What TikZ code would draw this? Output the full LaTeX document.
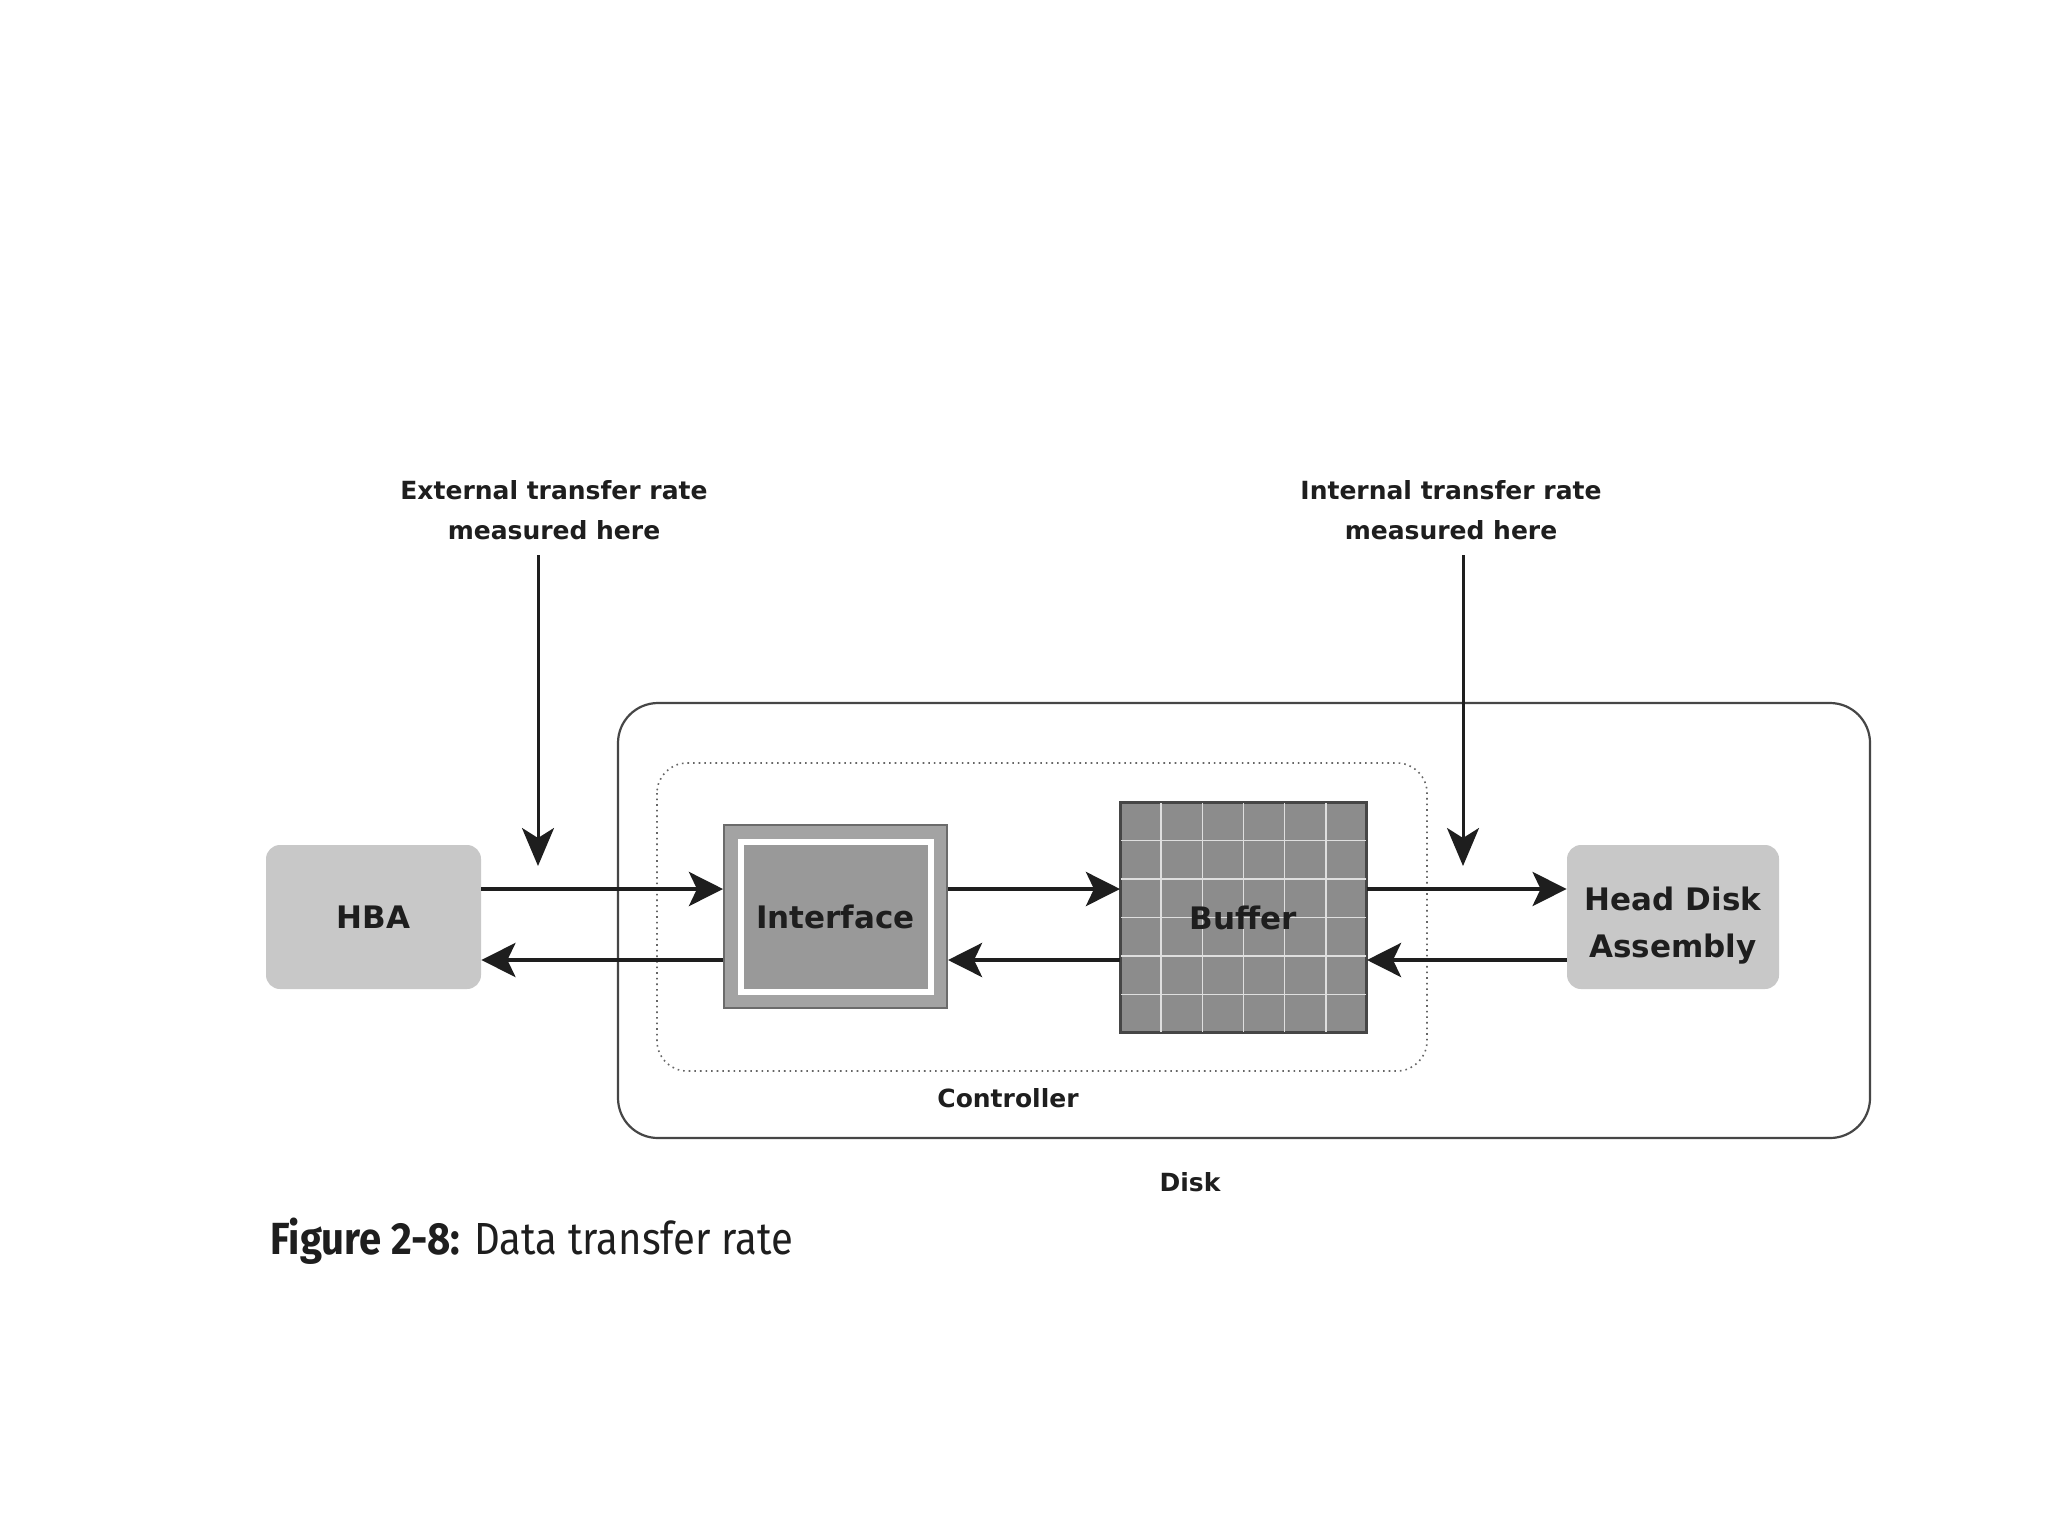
\documentclass[tikz,border=0pt]{standalone}
\usepackage{fontspec}
\usepackage{graphicx}
\setmainfont{DejaVu Sans}
\newfontfamily\capfont{Fira Sans}
\usetikzlibrary{arrows.meta,calc}
\definecolor{boxlight}{RGB}{200,200,200}
\definecolor{boxmid}{RGB}{153,153,153}
\definecolor{bufgray}{RGB}{140,140,140}
\definecolor{edgedark}{RGB}{70,70,70}
\definecolor{linedark}{RGB}{30,30,30}
\tikzset{
  lightbox/.style={fill=boxlight, rounded corners=7pt, inner sep=0pt, align=center,
    font=\bfseries\fontsize{15.5}{23.5}\selectfont, text=linedark},
  flowarrow/.style={draw=linedark, line width=2.2pt, -{Stealth[length=17pt,width=17pt,inset=4pt]}},
  probearrow/.style={draw=linedark, line width=1.5pt, -{Stealth[length=19pt,width=16pt,inset=5pt]}},
  smalllabel/.style={font=\bfseries\fontsize{12.5}{20}\selectfont, text=linedark, align=center, inner sep=0pt},
}
\begin{document}
\begin{tikzpicture}[x=0.5pt,y=-0.5pt]
\path[use as bounding box, fill=white] (0,0) rectangle (2048,1536);

% Disk and controller frames
\draw[edgedark, line width=1.1pt, rounded corners=20pt] (618,703) rectangle (1870,1138);
\draw[gray!80!black, line width=0.8pt, dotted, rounded corners=15pt] (657,763) rectangle (1427,1071);

% Nodes
\node[lightbox, minimum width=107.5pt, minimum height=72pt] (hba) at (373.5,917) {HBA};
\node[lightbox, minimum width=106pt, minimum height=72pt] (hda) at (1673,917) {\rule{0pt}{20pt}Head Disk\\Assembly};

\node[draw=edgedark!80, line width=1pt, fill=boxmid!90!white, minimum width=111.5pt, minimum height=91.5pt, inner sep=0pt] (iface) at (835.5,916.5) {};
\node[draw=white, line width=3pt, fill=boxmid, minimum width=95pt, minimum height=75pt, inner sep=0pt,
  font=\bfseries\fontsize{15.5}{18}\selectfont, text=linedark] (ifacein) at (iface.center) {Interface};

\node[draw=edgedark, line width=1pt, fill=bufgray, minimum width=122.5pt, minimum height=114.5pt, inner sep=0pt] (buf) at (1243.5,917.5) {};
\foreach \i in {1,...,5} {
  \draw[white!75!gray, line width=0.8pt] ($(buf.north west)!\i/6!(buf.north east)$) -- ($(buf.south west)!\i/6!(buf.south east)$);
  \draw[white!75!gray, line width=0.8pt] ($(buf.north west)!\i/6!(buf.south west)$) -- ($(buf.north east)!\i/6!(buf.south east)$);
}
\draw[edgedark, line width=1pt] (buf.north west) rectangle (buf.south east);
\node[font=\bfseries\fontsize{15.5}{18}\selectfont, text=linedark] (buflbl) at (buf.center) {Buffer};

% Arrow levels
\coordinate (up) at (0,889);
\coordinate (dn) at (0,960);

\draw[flowarrow] (hba.east |- up) -- (iface.west |- up);
\draw[flowarrow] (iface.west |- dn) -- (hba.east |- dn);
\draw[flowarrow] (iface.east |- up) -- (buf.west |- up);
\draw[flowarrow] (buf.west |- dn) -- (iface.east |- dn);
\draw[flowarrow] (buf.east |- up) -- (hda.west |- up);
\draw[flowarrow] (hda.west |- dn) -- (buf.east |- dn);

% Probe labels
\node[smalllabel] (extlbl) at (554,510) {External transfer rate\\measured here};
\node[smalllabel] (intlbl) at (1451,510) {Internal transfer rate\\measured here};
\coordinate (exttip) at (538,866);
\coordinate (inttip) at (1463,866);
\coordinate (exttop) at (538,555);
\coordinate (inttop) at (1463,555);
\draw[probearrow] (exttop) -- (exttip);
\draw[probearrow] (inttop) -- (inttip);

\node[smalllabel] (ctrl) at (1008,1098) {Controller};
\node[smalllabel] (disk) at (1190,1182) {Disk};

% Caption
\node[anchor=west, inner sep=0pt, text=linedark] (caption) at (270,1241)
  {\scalebox{0.89}[1]{\capfont\fontsize{22.5}{26}\selectfont\textbf{Figure 2-8:} Data transfer rate}};
\end{tikzpicture}
\end{document}
